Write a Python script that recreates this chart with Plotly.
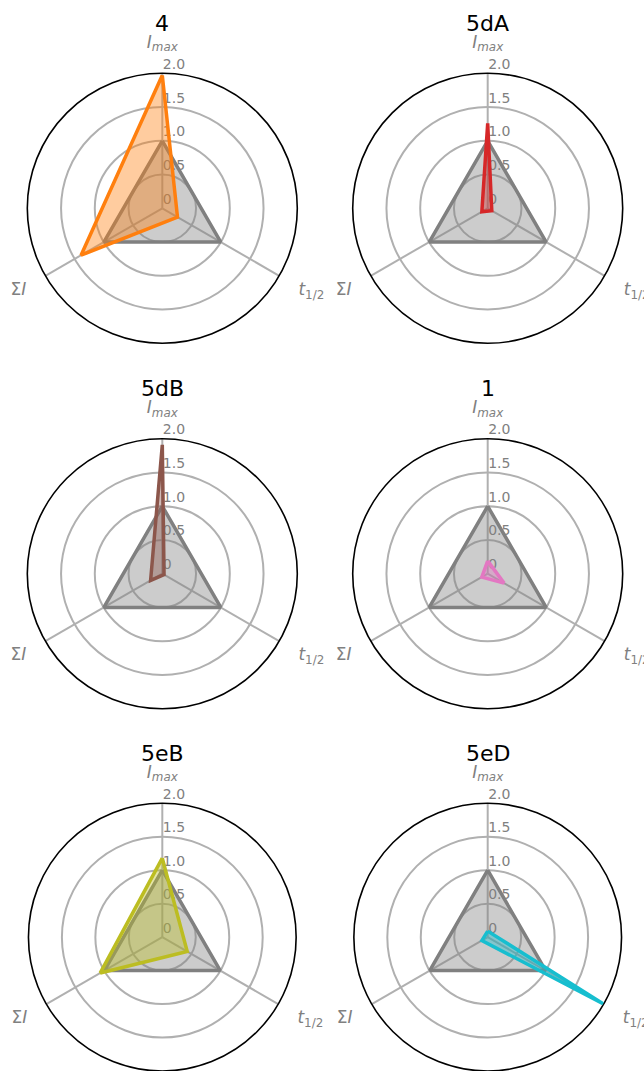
import plotly.graph_objects as go

# ---- data ----
axis_labels = ["<i>I</i><sub><i>max</i></sub>",
               "<i>t</i><sub>1/2</sub><br>\u00a0",
               "Σ<i>I</i><br>\u00a0"]
axis_angles = [0, 120, 240]
names = ["4", "5dA", "5dB", "1", "5eB", "5eD"]
imax = [1.97, 1.26, 1.91, 0.19, 1.18, 0.09]
thalf = [0.26, 0.07, 0.03, 0.28, 0.43, 1.99]
sum_i = [1.39, 0.10, 0.20, 0.10, 1.07, 0.10]
reference = [1.0, 1.0, 1.0]
colors = ["#ff7f0e", "#d62728", "#8c564b", "#e377c2", "#bcbd22", "#17becf"]
radial_ticks = [0, 0.5, 1.0, 1.5, 2.0]
radial_ticktext = ["0", "0.5", "1.0", "1.5", "2.0"]

W, H = 644, 1071


def hex_rgba(h, a):
    h = h.lstrip("#")
    return f"rgba({int(h[0:2],16)},{int(h[2:4],16)},{int(h[4:6],16)},{a})"


# radial labels sit slightly above their ring (extra empty second line)
radial_text = [t + "<br>\u00a0" for t in radial_ticktext]

# subplot centres (px) and radius
centers = [(162.3, 208.3), (487.7, 208.3),
           (162.3, 573.7), (487.7, 573.7),
           (162.3, 938.3), (487.7, 938.3)]
R = 135

fig = go.Figure()
layout = dict(width=W, height=H, margin=dict(l=0, r=0, t=0, b=0),
              paper_bgcolor="white", plot_bgcolor="white",
              showlegend=False, font=dict(family="DejaVu Sans"))
annotations = []

for i, name in enumerate(names):
    pid = "polar" if i == 0 else f"polar{i+1}"
    sub = pid
    cx, cy = centers[i]
    x0, x1 = (cx - R) / W, (cx + R) / W
    y_top, y_bot = cy - R, cy + R
    d0 = max(0.0, 1 - y_bot / H)
    d1 = min(1.0, 1 - y_top / H)

    theta = axis_angles + [axis_angles[0]]
    ref_r = reference + [reference[0]]
    fig.add_trace(go.Scatterpolar(
        r=ref_r, theta=theta, mode="lines", fill="toself",
        line=dict(color="#808080", width=3.5),
        fillcolor=hex_rgba("#808080", 0.4), subplot=sub, hoverinfo="skip"))
    vals = [imax[i], thalf[i], sum_i[i]]
    fig.add_trace(go.Scatterpolar(
        r=vals + [vals[0]], theta=theta, mode="lines", fill="toself",
        line=dict(color=colors[i], width=3.5),
        fillcolor=hex_rgba(colors[i], 0.4), subplot=sub, name=name))

    layout[pid] = dict(
        domain=dict(x=[x0, x1], y=[d0, d1]),
        bgcolor="white",
        angularaxis=dict(
            rotation=90, direction="clockwise", thetaunit="degrees",
            tickmode="array", tickvals=axis_angles, ticktext=axis_labels,
            showline=True, linecolor="black", linewidth=1.6,
            showgrid=True, gridcolor="#b0b0b0", gridwidth=1.6,
            ticks="outside", ticklen=18, tickcolor="rgba(0,0,0,0)",
            tickfont=dict(size=17, color="#808080", family="DejaVu Sans"),
            layer="below traces",
        ),
        radialaxis=dict(
            range=[0, 2], angle=90, tickangle=90, side="clockwise",
            tickmode="array", tickvals=radial_ticks, ticktext=radial_text,
            showline=False, showgrid=True, gridcolor="#b0b0b0", gridwidth=1.6,
            ticks="", tickfont=dict(size=14, color="#808080", family="DejaVu Sans"),
            layer="below traces",
        ),
    )
    annotations.append(dict(
        text=name, x=cx / W, y=1 - (cy - 185) / H, xref="paper", yref="paper",
        xanchor="center", yanchor="middle", showarrow=False,
        font=dict(size=22, color="black", family="DejaVu Sans")))

layout["annotations"] = annotations
fig.update_layout(**layout)
fig.write_html("out.html", config={"displayModeBar": False},
               post_script="document.body.style.margin='0';document.body.style.padding='0';")
